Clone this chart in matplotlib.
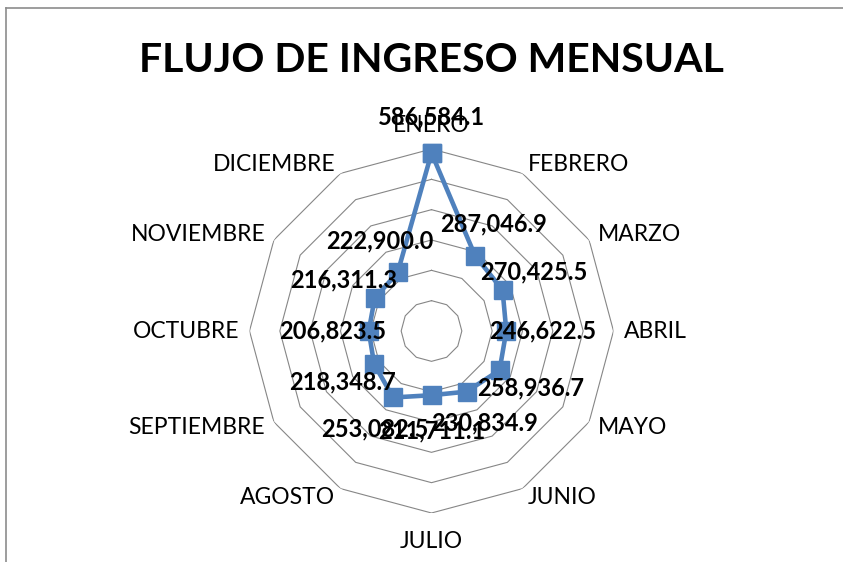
import numpy as np
import matplotlib.pyplot as plt
from matplotlib.lines import Line2D

# datos del grafico
meses = ['ENERO', 'FEBRERO', 'MARZO', 'ABRIL', 'MAYO', 'JUNIO', 'JULIO',
         'AGOSTO', 'SEPTIEMBRE', 'OCTUBRE', 'NOVIEMBRE', 'DICIEMBRE']
ingresos = [586584.1, 287046.9, 270425.5, 246622.5, 258936.7, 230834.9,
            211711.1, 253082.5, 218348.7, 206823.5, 216311.3, 222900.0]
anillos = [100000, 200000, 300000, 400000, 500000, 600000]

plt.rcParams['font.family'] = ['Lato', 'DejaVu Sans']

W, H = 843, 562
fig = plt.figure(figsize=(W / 100, H / 100), dpi=100)

# centro (431.5, 331) px, radio 182 px
cx, cy, R = 431.5, 331, 182
ax = fig.add_axes([(cx - R) / W, (H - cy - R) / H, 2 * R / W, 2 * R / H],
                  projection='polar')
ax.set_theta_zero_location('N')
ax.set_theta_direction(-1)
ax.set_ylim(0, anillos[-1])
ax.axis('off')

n = len(meses)
theta = np.arange(n) * 2 * np.pi / n
theta_c = np.append(theta, theta[0])

# rejilla poligonal
for r in anillos:
    ax.plot(theta_c, [r] * (n + 1), color='#868686', lw=0.8, zorder=1)

# serie
vals_c = np.append(ingresos, ingresos[0])
ax.plot(theta_c, vals_c, color='#4F81BD', lw=3.3, zorder=3,
        marker='s', markersize=13, markerfacecolor='#4F81BD',
        markeredgecolor='#4F81BD', clip_on=False)

# etiquetas de datos
for t, v in zip(theta, ingresos):
    d = 26
    ax.annotate(f'{v:,.1f}', xy=(t, v),
                xytext=(d * np.sin(t), d * np.cos(t)), textcoords='offset points',
                ha='center', va='center', fontsize=17, fontweight='bold',
                color='black', zorder=5, annotation_clip=False)

# etiquetas de categoria
for t, m in zip(theta, meses):
    s, c = np.sin(t), np.cos(t)
    if abs(s) < 0.1:
        ha = 'center'
        va = 'bottom' if c > 0 else 'top'
        rr = anillos[-1] * (1.07 if c > 0 else 1.1)
    else:
        ha = 'left' if s > 0 else 'right'
        va = 'center'
        rr = anillos[-1] * 1.055
    ax.text(t, rr, m, ha=ha, va=va, fontsize=16.5, color='black', zorder=5)

# titulo
fig.text(cx / W, 1 - 60 / H, 'FLUJO DE INGRESO MENSUAL', ha='center', va='center',
         fontsize=29.5, fontweight='bold', color='black')

# borde del area del grafico
fig.add_artist(Line2D([6 / W, 6 / W], [0, 1 - 8 / H], color='#8c8c8c', lw=1.2,
                      transform=fig.transFigure))
fig.add_artist(Line2D([6 / W, 1], [1 - 8 / H, 1 - 8 / H], color='#8c8c8c', lw=1.2,
                      transform=fig.transFigure))

fig.savefig('out.png', dpi=100, facecolor='white')
